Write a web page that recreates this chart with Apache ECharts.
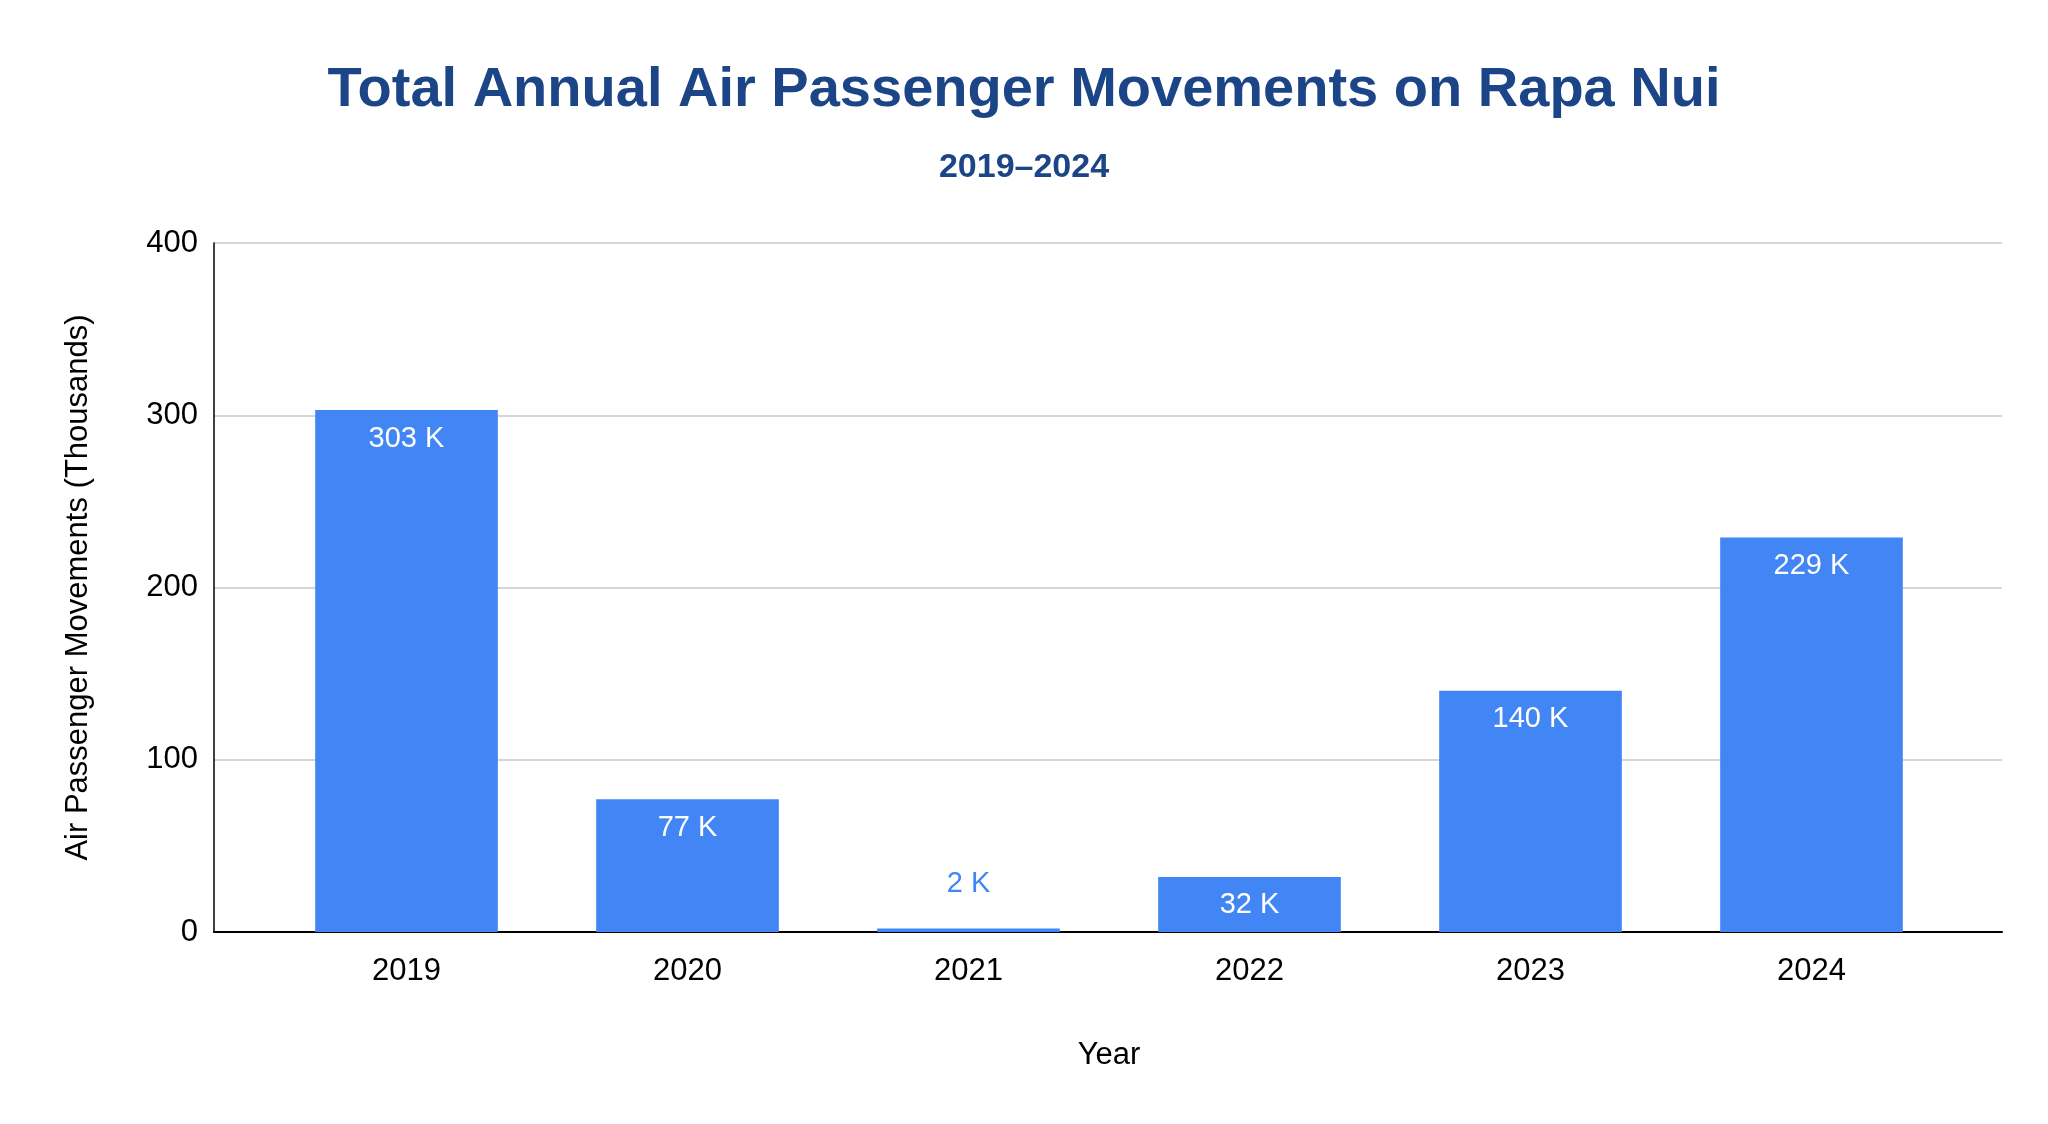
<!DOCTYPE html>
<html>
<head>
<meta charset="utf-8">
<script src="https://cdn.jsdelivr.net/npm/echarts@6/dist/echarts.min.js"></script>
<style>
html,body{margin:0;padding:0;background:#fff;}
#chart{width:2048px;height:1124px;}
</style>
</head>
<body>
<div id="chart"></div>
<script>
var years=['2019','2020','2021','2022','2023','2024'];
var passengers=[303,77,2,32,140,229];
var yTicks=[0,100,200,300,400];

var chart=echarts.init(document.getElementById('chart'));
var barData=passengers.map(function(v){
    if(v<10){
        return {value:v,label:{position:'top',color:'#4285f4',distance:30}};
    }
    return v;
});
var font='Liberation Sans, Arial, sans-serif';
var option={
    backgroundColor:'#fff',
    textStyle:{fontFamily:font},
    title:{
        text:'Total Annual Air Passenger Movements on Rapa Nui',
        subtext:'2019–2024',
        left:'center',
        top:58,
        itemGap:32,
        textStyle:{fontSize:56,fontWeight:'bold',color:'#1c4587',fontFamily:font},
        subtextStyle:{fontSize:34,fontWeight:'bold',color:'#1c4587',fontFamily:font}
    },
    grid:[
        {left:214,right:46,top:243,bottom:192},
        {left:266,right:96,top:243,bottom:192}
    ],
    xAxis:[{
        type:'value',gridIndex:0,min:0,max:1,
        axisLine:{show:true,onZero:false,lineStyle:{color:'#000',width:2}},
        axisTick:{show:false},axisLabel:{show:false},splitLine:{show:false}
    },{
        type:'category',
        gridIndex:1,
        data:years,
        name:'Year',
        nameLocation:'middle',
        nameGap:108,
        nameTextStyle:{fontSize:31,color:'#000'},
        axisLine:{show:false},
        axisTick:{show:false},
        axisLabel:{fontSize:31,color:'#000',margin:24}
    }],
    yAxis:[{
        type:'value',
        gridIndex:0,
        min:yTicks[0],
        max:yTicks[yTicks.length-1],
        interval:100,
        name:'Air Passenger Movements (Thousands)',
        nameLocation:'middle',
        nameGap:120,
        nameTextStyle:{fontSize:31,color:'#000'},
        axisLine:{show:true,lineStyle:{color:'#000',width:1.5}},
        axisTick:{show:false},
        axisLabel:{fontSize:31,color:'#000',margin:16},
        splitLine:{lineStyle:{color:'#c8c8c8',width:1.5}}
    },{
        type:'value',gridIndex:1,min:yTicks[0],max:yTicks[yTicks.length-1],
        show:false
    }],
    series:[{
        type:'bar',
        xAxisIndex:1,
        yAxisIndex:1,
        data:barData,
        barWidth:'65%',
        itemStyle:{color:'#4285f4'},
        label:{
            show:true,
            position:'insideTop',
            distance:14,
            color:'#fff',
            fontSize:29,
            formatter:function(p){return p.value+' K';}
        }
    }]
};
chart.setOption(option);
</script>
</body>
</html>
